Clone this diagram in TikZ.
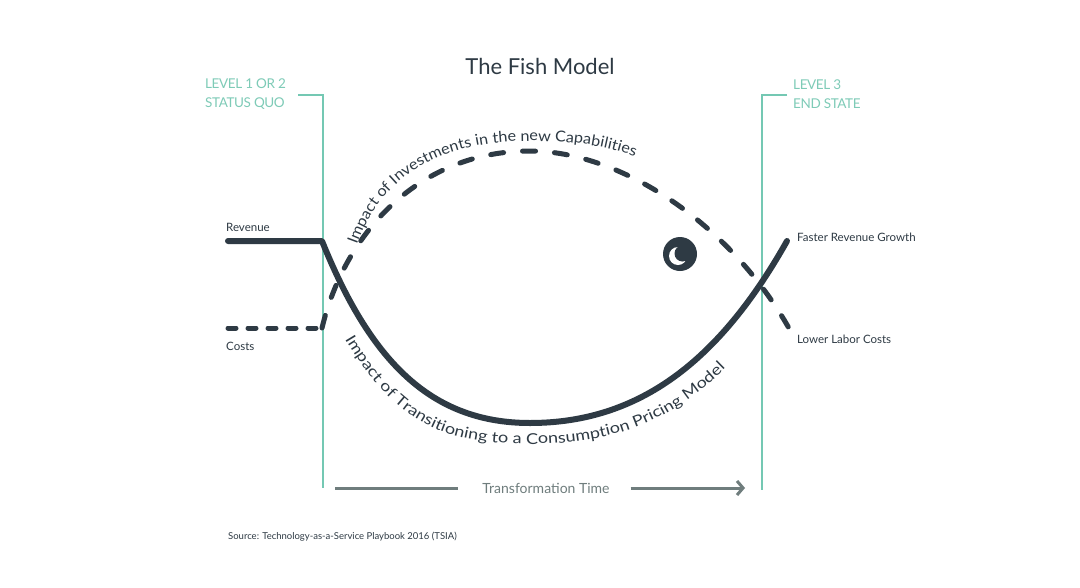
\documentclass[tikz,border=0pt]{standalone}
\usepackage{fontspec}
\setmainfont{Lato}
\usetikzlibrary{decorations.text,arrows.meta}
\definecolor{ink}{HTML}{2E3A44}
\definecolor{teal}{HTML}{74C8B3}
\definecolor{tealtext}{HTML}{7ECBB7}
\definecolor{axisgray}{HTML}{6F7D7D}
\tikzset{
  tealline/.style={draw=teal, line width=2pt},
  levellabel/.style={anchor=west, align=left, text=tealtext, font=\fontsize{13.5}{19}\selectfont\addfontfeature{LetterSpace=-3}, inner sep=0pt},
  curvelabel/.style={anchor=west, text=ink, font=\fontsize{11.5}{13}\selectfont, inner sep=0pt},
  solidcurve/.style={draw=ink, line width=6pt, line cap=round, line join=round},
  dashcurve/.style={draw=ink, line width=5pt, line cap=round, dash pattern=on 13pt off 19pt},
  dashflat/.style={draw=ink, line width=5pt, line cap=round, dash pattern=on 8pt off 12pt},
  axisline/.style={draw=axisgray, line width=3pt},
}
\begin{document}
\begin{tikzpicture}[x=1pt,y=-1pt]
\fill[white] (0,0) rectangle (1080,587);
\useasboundingbox (0,0) rectangle (1080,587);

% title
\node[text=ink, font=\fontsize{22}{24}\selectfont] (title) at (540,66) {The Fish Model};

% level labels
\node[levellabel] (lvlA) at (205,94) {LEVEL 1 OR 2\\STATUS QUO};
\node[levellabel] (lvlB) at (793,94) {LEVEL 3\\END STATE};

% teal verticals
\coordinate (lt) at (298,95);
\coordinate (lc) at (323,95);
\coordinate (lb) at (323,488);
\coordinate (rt) at (787,95);
\coordinate (rc) at (762,95);
\coordinate (rb) at (762,490);
\draw[tealline] (lt) -- (lc) -- (lb);
\draw[tealline] (rt) -- (rc) -- (rb);

% key points
\coordinate (revS) at (228,241);
\coordinate (revK) at (322,241);
\coordinate (bottom) at (530,423);
\coordinate (revE) at (787,241);
\coordinate (costS) at (228,328);
\coordinate (costK) at (322,328);
\coordinate (top) at (530,151);
\coordinate (costE) at (790,330);

% dashed costs curve
\draw[dashflat] (costS) -- (costK);
\draw[dashcurve] (costK) .. controls (345,232) and (420,151) .. (top)
   .. controls (620,151) and (730,223) .. (costE);

% solid revenue curve
\draw[solidcurve] (revS) -- (revK) .. controls (370,360) and (430,423) .. (bottom)
   .. controls (640,423) and (720,360) .. (revE);

% curved labels
\path[decorate, decoration={text along path, text align=left,
   text={|\fontsize{15}{16}\selectfont\addfontfeature{FakeStretch=1.08}\color{ink}|Impact of Investments in the new Capabilities}}]
   (357,245) .. controls (383,172) and (445,141) .. (530,141)
   .. controls (600,141) and (640,152) .. (700,190);
\path[decorate, decoration={text along path, text align=left,
   text={|\fontsize{15}{16}\selectfont\addfontfeature{FakeStretch=1.2}\color{ink}|Impact of Transitioning to a Consumption Pricing Model}}]
   (345,339) .. controls (398,428) and (450,444) .. (530,444)
   .. controls (630,444) and (695,410) .. (755,335);

% eye
\coordinate (eye) at (680,254);
\fill[ink] (eye) circle (17pt);
\fill[white] (678,256) circle (9pt);
\fill[ink] (682.5,253.5) circle (8pt);

% side labels
\node[curvelabel] (rev) at (226,227) {Revenue};
\node[curvelabel] (cost) at (226,346) {Costs};
\node[curvelabel] (frg) at (797,237) {Faster Revenue Growth};
\node[curvelabel] (llc) at (797,339) {Lower Labor Costs};

% transformation time arrow
\node[text=axisgray, font=\fontsize{14}{16}\selectfont, inner sep=0pt] (tt) at (546,488) {Transformation Time};
\coordinate (ta) at (335,488);
\coordinate (tb) at (745,488);
\draw[axisline] (ta) -- ([xshift=-24pt]tt.west);
\draw[axisline, -{Straight Barb[length=6pt,width=14pt]}] ([xshift=21pt]tt.east) -- (tb);

% source
\node[anchor=west, text=ink, font=\fontsize{9.5}{11}\selectfont, inner sep=0pt] (src) at (228,537) {Source: Technology-as-a-Service Playbook 2016 (TSIA)};
\end{tikzpicture}
\end{document}
